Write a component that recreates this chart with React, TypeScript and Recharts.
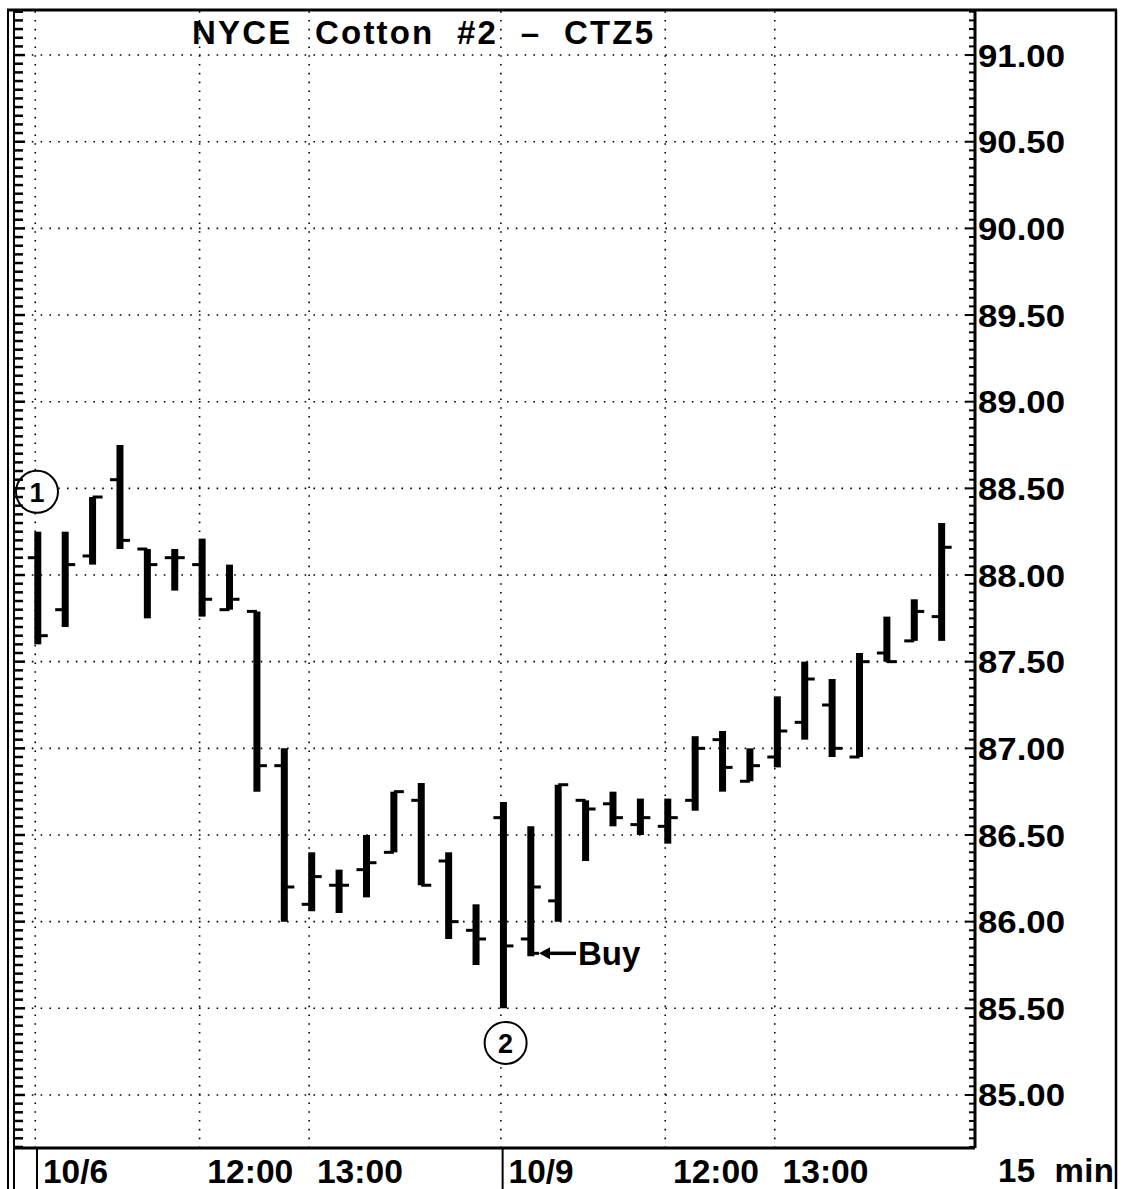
import React from 'react';
import { ComposedChart, Bar, XAxis, YAxis, ReferenceLine, ReferenceDot } from 'recharts';

// ---- data (15-minute OHLC bars, NYCE Cotton #2 Dec '95) ----
const barIndex = [0, 1, 2, 3, 4, 5, 6, 7, 8, 9, 10, 11, 12, 13, 14, 15, 16, 17, 18, 19, 20, 21, 22, 23, 24, 25, 26, 27, 28, 29, 30, 31, 32, 33];
const opens = [88.10, 87.80, 88.11, 88.55, 88.15, 88.10, 88.06, 87.80, 87.79, 86.90, 86.10, 86.21, 86.30, 86.40, 86.70, 86.35, 85.95, 86.60, 85.90, 86.12, 86.70, 86.68, 86.56, 86.55, 86.70, 87.05, 86.81, 86.95, 87.15, 87.25, 86.95, 87.55, 87.62, 87.76];
const highs = [88.25, 88.25, 88.45, 88.75, 88.15, 88.15, 88.21, 88.06, 87.79, 87.00, 86.40, 86.30, 86.50, 86.75, 86.80, 86.40, 86.10, 86.69, 86.55, 86.79, 86.70, 86.75, 86.71, 86.71, 87.07, 87.10, 87.00, 87.30, 87.50, 87.40, 87.55, 87.76, 87.86, 88.30];
const lows = [87.60, 87.70, 88.06, 88.15, 87.75, 87.91, 87.76, 87.80, 86.75, 86.00, 86.06, 86.05, 86.14, 86.40, 86.21, 85.90, 85.75, 85.50, 85.80, 86.00, 86.35, 86.55, 86.50, 86.45, 86.64, 86.75, 86.81, 86.89, 87.05, 86.95, 86.95, 87.50, 87.62, 87.62];
const closes = [87.65, 88.06, 88.45, 88.20, 88.06, 88.10, 87.86, 87.86, 86.90, 86.20, 86.26, 86.21, 86.34, 86.75, 86.21, 86.00, 85.90, 85.86, 86.20, 86.79, 86.65, 86.60, 86.60, 86.60, 87.00, 86.89, 86.90, 87.10, 87.40, 87.00, 87.50, 87.50, 87.79, 88.16];

const timeTickIndex = [0, 6, 10, 17, 23, 27];
const timeTickLabels = ['10/6', '12:00', '13:00', '10/9', '12:00', '13:00'];
const dayBreakIndex = [0, 17];

const priceTicks = [85, 85.5, 86, 86.5, 87, 87.5, 88, 88.5, 89, 89.5, 90, 90.5, 91];
const priceTickLabels = ['85.00', '85.50', '86.00', '86.50', '87.00', '87.50', '88.00', '88.50', '89.00', '89.50', '90.00', '90.50', '91.00'];

const annotationOne = { index: 0, price: 88.48, text: '1' };
const annotationTwo = { index: 17, price: 85.30, text: '2' };
const buyIndex = 18;

const TITLE = 'NYCE  Cotton  #2  –  CTZ5';
const INTERVAL_LABEL = '15  min';

// ---- derived ----
const rows = barIndex.map((i, k) => ({
  i,
  open: opens[k],
  high: highs[k],
  low: lows[k],
  close: closes[k],
  range: [lows[k], highs[k]],
}));

const minorTicks: number[] = [];
for (let k = 0; k <= 131; k++) {
  const v = Math.round((84.7 + k * 0.05) * 100) / 100;
  if (v <= 91.25) minorTicks.push(v);
}

const FONT = "'Liberation Sans', Arial, sans-serif";
const INK = '#000';

const OhlcShape = (props: any) => {
  const { x, y, width, height, payload } = props;
  if (x == null || y == null) return null;
  const cx = x + width / 2;
  const top = Math.min(y, y + height);
  const h = Math.abs(height);
  const hi = payload.high;
  const lo = payload.low;
  const toY = (v: number) => top + ((hi - v) / (hi - lo)) * h;
  const yo = toY(payload.open);
  const yc = toY(payload.close);
  return (
    <g>
      <line x1={cx} x2={cx} y1={top} y2={top + h} stroke={INK} strokeWidth={7} />
      <line x1={cx - 10} x2={cx} y1={yo} y2={yo} stroke={INK} strokeWidth={3} />
      <line x1={cx} x2={cx + 10} y1={yc} y2={yc} stroke={INK} strokeWidth={3} />
    </g>
  );
};

const RightTick = (props: any) => {
  const { x, y, payload } = props;
  const v = payload.value;
  const idx = priceTicks.findIndex((p) => Math.abs(p - v) < 1e-6);
  const major = idx >= 0;
  return (
    <g>
      <line x1={x - (major ? 10 : 6)} x2={x} y1={y} y2={y} stroke={INK} strokeWidth={2} />
      {major && (
        <text x={x + 3} y={y} dy="0.36em" fontSize={32} fontWeight="bold" fontFamily={FONT} fill={INK} textLength={87} lengthAdjust="spacingAndGlyphs">
          {priceTickLabels[idx]}
        </text>
      )}
    </g>
  );
};

const LeftTick = (props: any) => {
  const { x, y, payload } = props;
  const v = payload.value;
  const major = priceTicks.some((p) => Math.abs(p - v) < 1e-6);
  return <line x1={x} x2={x + (major ? 11 : 9)} y1={y} y2={y} stroke={INK} strokeWidth={2.5} />;
};

const TimeTick = (props: any) => {
  const { x, y, payload } = props;
  const idx = timeTickIndex.indexOf(payload.value);
  if (idx < 0) return null;
  const label = timeTickLabels[idx];
  const isDay = dayBreakIndex.includes(payload.value);
  return (
    <g>
      {isDay && <line x1={x - 1} x2={x - 1} y1={y} y2={y + 45} stroke={INK} strokeWidth={2} />}
      <text x={x + 5} y={y + 35} fontSize={33} fontWeight="bold" fontFamily={FONT} fill={INK} textLength={label.length > 4 ? 86 : 65} lengthAdjust="spacingAndGlyphs">
        {label}
      </text>
    </g>
  );
};

const CircleMarker = (props: any) => {
  const { cx, cy, text } = props;
  if (cx == null || cy == null) return null;
  return (
    <g>
      <circle cx={cx - 1} cy={cy} r={21} fill="#fff" stroke={INK} strokeWidth={2} />
      <text x={cx - 1} y={cy} dy="0.36em" textAnchor="middle" fontSize={27} fontWeight="bold" fontFamily={FONT} fill={INK}>
        {text}
      </text>
    </g>
  );
};

const BuyMarker = (props: any) => {
  const { cx, cy } = props;
  if (cx == null || cy == null) return null;
  const ay = cy - 3;
  return (
    <g>
      <line x1={cx + 3} x2={cx + 8} y1={ay} y2={ay} stroke={INK} strokeWidth={3} />
      <line x1={cx + 15} x2={cx + 45} y1={ay} y2={ay} stroke={INK} strokeWidth={3.5} />
      <path d={`M${cx + 8},${ay} L${cx + 19},${ay - 6} L${cx + 19},${ay + 6} Z`} fill={INK} />
      <text x={cx + 47} y={cy + 9} fontSize={33} fontWeight="bold" fontFamily={FONT} fill={INK}>
        Buy
      </text>
    </g>
  );
};

const GRID_DASH = '1.6 7.2';

export default function App() {
  return (
    <div style={{ position: 'absolute', left: 0, top: 0, width: 1122, height: 1189, background: '#fff', overflow: 'hidden' }}>
      <ComposedChart
        width={1122}
        height={1189}
        data={rows}
        margin={{ top: 10, right: 0, bottom: 0, left: 0 }}
      >
        <XAxis
          dataKey="i"
          type="number"
          domain={[-0.876, 34.21]}
          allowDataOverflow
          ticks={timeTickIndex}
          interval={0}
          height={41}
          tickSize={0}
          tickMargin={0}
          tickLine={false}
          axisLine={{ stroke: INK, strokeWidth: 3 }}
          tick={<TimeTick />}
        />
        <YAxis
          yAxisId="left"
          orientation="left"
          type="number"
          width={14}
          domain={[84.694, 91.26]}
          allowDataOverflow
          ticks={minorTicks}
          interval={0}
          tickSize={0}
          tickMargin={0}
          tickLine={false}
          axisLine={false}
          tick={<LeftTick />}
        />
        <YAxis
          yAxisId="right"
          orientation="right"
          type="number"
          width={147}
          domain={[84.694, 91.26]}
          allowDataOverflow
          ticks={minorTicks}
          interval={0}
          tickSize={0}
          tickMargin={0}
          tickLine={false}
          axisLine={{ stroke: INK, strokeWidth: 3 }}
          tick={<RightTick />}
        />
        {priceTicks.map((p) => (
          <ReferenceLine key={'h' + p} yAxisId="right" y={p} stroke={INK} strokeWidth={1.6} strokeDasharray={GRID_DASH} />
        ))}
        {timeTickIndex.map((t) => (
          <ReferenceLine key={'v' + t} yAxisId="right" x={t - 0.1} stroke={INK} strokeWidth={1.6} strokeDasharray={GRID_DASH} />
        ))}
        <Bar yAxisId="right" dataKey="range" barSize={7} isAnimationActive={false} shape={<OhlcShape />} />
        <ReferenceDot
          yAxisId="right"
          x={annotationOne.index}
          y={annotationOne.price}
          r={21}
          shape={(p: any) => <CircleMarker {...p} text={annotationOne.text} />}
        />
        <ReferenceDot
          yAxisId="right"
          x={annotationTwo.index}
          y={annotationTwo.price}
          r={21}
          shape={(p: any) => <CircleMarker {...p} cx={p.cx + 3} text={annotationTwo.text} />}
        />
        <ReferenceDot
          yAxisId="right"
          x={buyIndex}
          y={lows[buyIndex]}
          r={2}
          shape={(p: any) => <BuyMarker {...p} />}
        />
      </ComposedChart>
      <svg width={1122} height={1189} style={{ position: 'absolute', left: 0, top: 0, pointerEvents: 'none' }}>
        <line x1={7} x2={1117} y1={10} y2={10} stroke={INK} strokeWidth={3} />
        <line x1={8} x2={8} y1={10} y2={1189} stroke={INK} strokeWidth={2} />
        <line x1={14} x2={14} y1={10} y2={1189} stroke={INK} strokeWidth={2} />
        <line x1={1116} x2={1116} y1={10} y2={1189} stroke={INK} strokeWidth={2.5} />
        <text x={192} y={44} fontSize={33} fontWeight="bold" fontFamily={FONT} fill={INK} textLength={461} lengthAdjust="spacing" style={{ whiteSpace: 'pre' }}>
          {TITLE}
        </text>
        <text x={998} y={1182} fontSize={33} fontWeight="bold" fontFamily={FONT} fill={INK} textLength={116} lengthAdjust="spacing" style={{ whiteSpace: 'pre' }}>
          {INTERVAL_LABEL}
        </text>
      </svg>
    </div>
  );
}
